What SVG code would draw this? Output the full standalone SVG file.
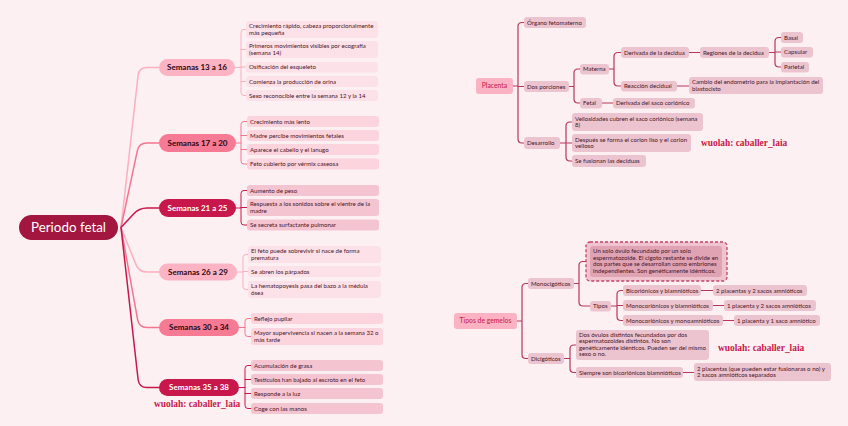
<svg xmlns="http://www.w3.org/2000/svg" width="848" height="426" viewBox="0 0 848 426">
<style>
text{font-family:Lato,"Noto Sans",sans-serif}
.t{font-size:6.1px;fill:#4a1526}
.sem{font-size:8px;font-weight:bold;text-anchor:middle}
.dk{fill:#2a0812}
.wh{fill:#ffffff}
.c1{fill:#fde1e8}.c2{fill:#fcd4de}.c3{fill:#f5c4d1}
.r{fill:#ecc4cf}
.cn{fill:none;stroke-linecap:round;stroke-linejoin:round}
.rc{stroke:#b8365e;stroke-width:1.2;fill:none}
.wm{font-family:"Liberation Serif",serif;font-weight:bold;font-size:9.4px;fill:#c8174a}
.hub{fill:#fbb3c3}
.ht{font-size:6.8px;fill:#c8174a;text-anchor:middle}
</style>
<rect width="848" height="426" fill="#fcf0f3"/>

<g id="connectors">
  <path class="cn" stroke="#fbb0c0" stroke-width="1.5" d="M121,227.5 L138.1,75.4 Q139,67.5 147,67.5 L159,67.5"/>
  <path class="cn" stroke="#f4758f" stroke-width="1.5" d="M121,227.5 L137.3,150.8 Q139,143 147,143 L159,143"/>
  <path class="cn" stroke="#c8174a" stroke-width="1.5" d="M121,227.5 L133.6,213.9 Q139,208 147,208 L159,208"/>
  <path class="cn" stroke="#fbb0c0" stroke-width="1.5" d="M121,227.5 L136,264.6 Q139,272 147,272 L159,272"/>
  <path class="cn" stroke="#f4758f" stroke-width="1.5" d="M121,227.5 L137.6,319.6 Q139,327.5 147,327.5 L159,327.5"/>
  <path class="cn" stroke="#c8174a" stroke-width="1.5" d="M121,227.5 L138.1,379.5 Q139,387.5 147,387.5 L159,387.5"/>
  <g stroke="#fbb0c0" class="cn" stroke-width="1">
    <path d="M235,67.5 H241 M246,29.5 H244 Q241,29.5 241,32.5 V92.5 Q241,95.5 244,95.5 H246 M241,49.5 H246 M241,67 H246 M241,81.5 H246"/>
    <path d="M237,272 H243 M248,254.5 H246 Q243,254.5 243,257.5 V286.5 Q243,289.5 246,289.5 H248 M243,271.5 H248"/>
  </g>
  <g stroke="#f4758f" class="cn" stroke-width="1">
    <path d="M236,143 H241 M247,121.5 H244 Q241,121.5 241,124.5 V161 Q241,164 244,164 H247 M241,135.5 H247 M241,149.5 H247"/>
    <path d="M239,327.5 H245 M251,318.5 H248 Q245,318.5 245,321.5 V333.5 Q245,336.5 248,336.5 H251"/>
  </g>
  <g stroke="#c8174a" class="cn" stroke-width="1">
    <path d="M236,208 H241 M247,190.5 H244 Q241,190.5 241,193.5 V222 Q241,225 244,225 H247 M241,207.5 H247"/>
    <path d="M239,387.5 H245 M251,365.5 H248 Q245,365.5 245,368.5 V405.5 Q245,408.5 248,408.5 H251 M245,379.5 H251 M245,393.5 H251"/>
  </g>
  <g class="rc" stroke-linecap="round">
    <path d="M513,86 H518 M524,22.5 H522 Q518,22.5 518,26.5 V139 Q518,143 522,143 H524 M518,86.5 H524"/>
    <path d="M569,86.5 H574 M580,69 H578 Q574,69 574,73 V99 Q574,103 578,103 H580"/>
    <path d="M609,69 H614 M621,52.5 H618 Q614,52.5 614,56.5 V82 Q614,86 618,86 H621"/>
    <path d="M689,52.5 H700"/>
    <path d="M769,52.5 H775 M781,37.5 H779 Q775,37.5 775,41.5 V63 Q775,67 779,67 H781 M775,52 H781"/>
    <path d="M677,86 H689"/>
    <path d="M602,103 H613"/>
    <path d="M560,143 H566 M572,122 H570 Q566,122 566,126 V157 Q566,161 570,161 H572 M566,143 H572"/>
    <path d="M517,321 H522 M528,283.5 H526 Q522,283.5 522,287.5 V354.5 Q522,358.5 526,358.5 H528"/>
    <path d="M574,283.5 H579 M586,261.5 H583 Q579,261.5 579,265.5 V302 Q579,306 583,306 H590"/>
    <path d="M611,306 H617 M623,290.5 H621 Q617,290.5 617,294.5 V316.5 Q617,320.5 621,320.5 H623 M617,305.5 H623"/>
    <path d="M701,290.5 H713 M713,305.5 H724 M723,320.5 H734"/>
    <path d="M564,358.5 H570 M576,345 H574 Q570,345 570,349 V368.5 Q570,372.5 574,372.5 H576"/>
    <path d="M683,372.5 H694"/>
  </g>
</g>

<g id="root">
  <rect x="19" y="215" width="99" height="25" rx="12.5" fill="#a3163f"/>
  <text x="68.5" y="232.2" font-size="13.4" text-anchor="middle" fill="#ffffff">Periodo fetal</text>
</g>

<g id="w13">
  <rect x="159" y="59" width="76" height="17" rx="8.5" fill="#fcb4c4"/>
  <text class="sem dk" x="197" y="70.4">Semanas 13 a 16</text>
  <rect class="c1" x="246" y="21" width="132" height="17" rx="3"/>
  <text class="t" x="249" y="28.3">Crecimiento rápido, cabeza proporcionalmente<tspan x="249" dy="6.8">más pequeña</tspan></text>
  <rect class="c1" x="246" y="41" width="132" height="17" rx="3"/>
  <text class="t" x="249" y="48.3">Primeros movimientos visibles por ecografía<tspan x="249" dy="6.8">(semana 14)</tspan></text>
  <rect class="c1" x="246" y="62" width="132" height="10.5" rx="3"/>
  <text class="t" x="249" y="69.3">Osificación del esqueleto</text>
  <rect class="c1" x="246" y="76" width="132" height="11" rx="3"/>
  <text class="t" x="249" y="83.6">Comienza la producción de orina</text>
  <rect class="c1" x="246" y="90" width="132" height="11" rx="3"/>
  <text class="t" x="249" y="97.6">Sexo reconocible entre la semana 12 y la 14</text>
</g>

<g id="w17">
  <rect x="159" y="134" width="77" height="18" rx="9" fill="#f67a93"/>
  <text class="sem dk" x="197.5" y="145.9">Semanas 17 a 20</text>
  <rect class="c2" x="247" y="116" width="132" height="11" rx="3"/>
  <text class="t" x="250" y="123.6">Crecimiento más lento</text>
  <rect class="c2" x="247" y="130" width="132" height="11" rx="3"/>
  <text class="t" x="250" y="137.6">Madre percibe movimientos fetales</text>
  <rect class="c2" x="247" y="144" width="132" height="11" rx="3"/>
  <text class="t" x="250" y="151.6">Aparece el cabello y el lanugo</text>
  <rect class="c2" x="247" y="158.5" width="132" height="11" rx="3"/>
  <text class="t" x="250" y="166.1">Feto cubierto por vérmix caseosa</text>
</g>

<g id="w21">
  <rect x="159" y="199" width="77" height="18" rx="9" fill="#c8174a"/>
  <text class="sem wh" x="197.5" y="210.9">Semanas 21 a 25</text>
  <rect class="c3" x="247" y="185" width="132" height="11" rx="3"/>
  <text class="t" x="250" y="192.6">Aumento de peso</text>
  <rect class="c3" x="247" y="199" width="132" height="17" rx="3"/>
  <text class="t" x="250" y="206.3">Respuesta a los sonidos sobre el vientre de la<tspan x="250" dy="6.8">madre</tspan></text>
  <rect class="c3" x="247" y="219.5" width="132" height="11" rx="3"/>
  <text class="t" x="250" y="227.1">Se secreta surfactante pulmonar</text>
</g>

<g id="w26">
  <rect x="159" y="263.5" width="78" height="17" rx="8.5" fill="#fcb4c4"/>
  <text class="sem dk" x="198" y="274.9">Semanas 26 a 29</text>
  <rect class="c1" x="248" y="246" width="133" height="17" rx="3"/>
  <text class="t" x="251" y="253.3">El feto puede sobrevivir si nace de forma<tspan x="251" dy="6.8">prematura</tspan></text>
  <rect class="c1" x="248" y="266" width="133" height="11" rx="3"/>
  <text class="t" x="251" y="273.6">Se abren los párpados</text>
  <rect class="c1" x="248" y="281" width="133" height="17" rx="3"/>
  <text class="t" x="251" y="288.3">La hematopoyesis pasa del bazo a la médula<tspan x="251" dy="6.8">ósea</tspan></text>
</g>

<g id="w30">
  <rect x="159" y="319" width="80" height="17" rx="8.5" fill="#f67a93"/>
  <text class="sem dk" x="199" y="330.4">Semanas 30 a 34</text>
  <rect class="c2" x="251" y="313" width="132" height="11" rx="3"/>
  <text class="t" x="254" y="320.6">Reflejo pupilar</text>
  <rect class="c2" x="251" y="328" width="132" height="17" rx="3"/>
  <text class="t" x="254" y="335.3">Mayor supervivencia si nacen a la semana 32 o<tspan x="254" dy="6.8">más tarde</tspan></text>
</g>

<g id="w35">
  <rect x="159" y="379" width="80" height="17" rx="8.5" fill="#c8174a"/>
  <text class="sem wh" x="199" y="390.4">Semanas 35 a 38</text>
  <rect class="c3" x="251" y="360" width="132" height="11" rx="3"/>
  <text class="t" x="254" y="367.6">Acumulación de grasa</text>
  <rect class="c3" x="251" y="374" width="132" height="11" rx="3"/>
  <text class="t" x="254" y="381.6">Testículos han bajado al escroto en el feto</text>
  <rect class="c3" x="251" y="388" width="132" height="11" rx="3"/>
  <text class="t" x="254" y="395.6">Responde a la luz</text>
  <rect class="c3" x="251" y="403" width="132" height="11" rx="3"/>
  <text class="t" x="254" y="410.6">Coge con las manos</text>
</g>

<g id="placenta">
  <rect class="hub" x="476" y="78" width="37" height="16" rx="3"/>
  <text class="ht" x="494.5" y="88.4">Placenta</text>
  <rect class="r" x="524" y="17" width="62" height="11" rx="3"/>
  <text class="t" x="527" y="24.6">Órgano fetomaterno</text>
  <rect class="r" x="524" y="81" width="45" height="11" rx="3"/>
  <text class="t" x="527" y="88.6">Dos porciones</text>
  <rect class="r" x="524" y="137" width="36" height="12" rx="3"/>
  <text class="t" x="527" y="145.1">Desarrollo</text>
  <rect class="r" x="580" y="64" width="29" height="10.5" rx="3"/>
  <text class="t" x="583" y="71.4">Materna</text>
  <rect class="r" x="580" y="98" width="22" height="10.5" rx="3"/>
  <text class="t" x="583" y="105.4">Fetal</text>
  <rect class="r" x="621" y="47" width="68" height="11" rx="3"/>
  <text class="t" x="624" y="54.6">Derivada de la decidua</text>
  <rect class="r" x="621" y="81" width="56" height="10.5" rx="3"/>
  <text class="t" x="624" y="88.4">Reacción decidual</text>
  <rect class="r" x="700" y="47" width="69" height="11" rx="3"/>
  <text class="t" x="703" y="54.6">Regiones de la decidua</text>
  <rect class="r" x="781" y="32" width="22" height="11" rx="3"/>
  <text class="t" x="784" y="39.6">Basal</text>
  <rect class="r" x="781" y="47" width="32" height="10.5" rx="3"/>
  <text class="t" x="784" y="54.4">Capsular</text>
  <rect class="r" x="781" y="62" width="28" height="10.5" rx="3"/>
  <text class="t" x="784" y="69.4">Parietal</text>
  <rect class="r" x="689" y="77" width="134" height="17" rx="3"/>
  <text class="t" x="692" y="84.3">Cambio del endometrio para la implantación del<tspan x="692" dy="6.8">blastocisto</tspan></text>
  <rect class="r" x="613" y="98" width="82" height="10.5" rx="3"/>
  <text class="t" x="616" y="105.4">Derivada del saco coriónico</text>
  <rect class="r" x="572" y="113" width="131" height="18" rx="3"/>
  <text class="t" x="575" y="120.6">Vellosidades cubren el saco coriónico (semana<tspan x="575" dy="6.8">8)</tspan></text>
  <rect class="r" x="572" y="134" width="119" height="18" rx="3"/>
  <text class="t" x="575" y="141.6">Después se forma el corion liso y el corion<tspan x="575" dy="6.8">velloso</tspan></text>
  <rect class="r" x="572" y="155" width="74" height="12" rx="3"/>
  <text class="t" x="575" y="163.1">Se fusionan las deciduas</text>
</g>

<g id="gemelos">
  <rect class="hub" x="454" y="313" width="63" height="16" rx="3"/>
  <text class="ht" x="485.5" y="323.4">Tipos de gemelos</text>
  <rect class="r" x="528" y="278" width="46" height="11" rx="3"/>
  <text class="t" x="531" y="285.6">Monocigóticos</text>
  <rect class="r" x="528" y="353" width="36" height="11" rx="3"/>
  <text class="t" x="531" y="360.6">Dicigóticos</text>
  <rect x="586" y="242" width="141" height="39" rx="4" fill="#efc4cf" stroke="#c0436a" stroke-width="1.3" stroke-dasharray="3,2"/>
  <rect x="590" y="246" width="132" height="31" rx="3" fill="#dfa3b4"/>
  <text class="t" x="593" y="253.3">Un solo óvulo fecundado por un solo<tspan x="593" dy="6.5">espermatozoide. El cigoto restante se divide en</tspan><tspan x="593" dy="6.5">dos partes que se desarrollan como embriones</tspan><tspan x="593" dy="6.5">independientes. Son genéticamente idénticos.</tspan></text>
  <rect class="r" x="590" y="301" width="21" height="10.5" rx="3"/>
  <text class="t" x="593" y="308.4">Tipos</text>
  <rect class="r" x="623" y="285" width="78" height="11" rx="3"/>
  <text class="t" x="626" y="292.6">Bicoriónicos y biamnióticos</text>
  <rect class="r" x="623" y="300" width="90" height="11" rx="3"/>
  <text class="t" x="626" y="307.6">Monocoriónicos y biamnióticos</text>
  <rect class="r" x="623" y="315" width="100" height="11" rx="3"/>
  <text class="t" x="626" y="322.6">Monocoriónicos y monoamnióticos</text>
  <rect class="r" x="713" y="285" width="94" height="11" rx="3"/>
  <text class="t" x="716" y="292.6">2 placentas y 2 sacos amnióticos</text>
  <rect class="r" x="724" y="300" width="92" height="11" rx="3"/>
  <text class="t" x="727" y="307.6">1 placenta y 2 sacos amnióticos</text>
  <rect class="r" x="734" y="315" width="86" height="11" rx="3"/>
  <text class="t" x="737" y="322.6">1 placenta y 1 saco amniótico</text>
  <rect class="r" x="576" y="330" width="133" height="30" rx="3"/>
  <text class="t" x="579" y="336.8">Dos óvulos distintos fecundados por dos<tspan x="579" dy="6.5">espermatozoides distintos. No son</tspan><tspan x="579" dy="6.5">genéticamente idénticos. Pueden ser del mismo</tspan><tspan x="579" dy="6.5">sexo o no.</tspan></text>
  <rect class="r" x="576" y="367" width="107" height="11" rx="3"/>
  <text class="t" x="579" y="374.6">Siempre son bicoriónicos biamnióticos</text>
  <rect class="r" x="694" y="363" width="137" height="18" rx="3"/>
  <text class="t" x="697" y="370.6">2 placentas (que pueden estar fusionaras o no) y<tspan x="697" dy="6.8">2 sacos amnióticos separados</tspan></text>
</g>

<g id="watermarks">
  <text class="wm" x="154" y="407">wuolah: caballer_laia</text>
  <text class="wm" x="701" y="146">wuolah: caballer_laia</text>
  <text class="wm" x="718" y="351">wuolah: caballer_laia</text>
</g>
</svg>
